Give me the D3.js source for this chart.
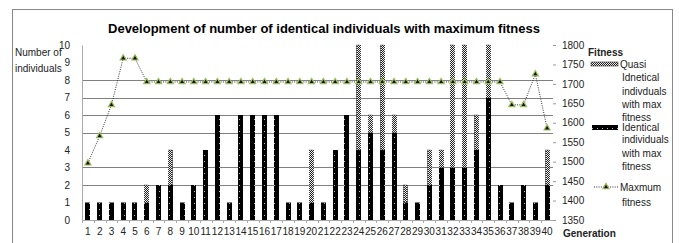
<!DOCTYPE html>
<html>
<head>
<meta charset="utf-8">
<script src="https://cdn.jsdelivr.net/npm/d3@7"></script>
<style>
  body { margin: 0; background: #fff; }
  text { font-family: "Liberation Sans", Arial, sans-serif; fill: #222; }
</style>
</head>
<body>
<div id="chart"></div>
<script>
// chart data
const generations = [1, 2, 3, 4, 5, 6, 7, 8, 9, 10, 11, 12, 13, 14, 15, 16, 17, 18, 19, 20,
  21, 22, 23, 24, 25, 26, 27, 28, 29, 30, 31, 32, 33, 34, 35, 36, 37, 38, 39, 40];
const identical = [1, 1, 1, 1, 1, 1, 2, 2, 1, 2, 4, 6, 1, 6, 6, 6, 6, 1, 1, 1,
  1, 4, 6, 4, 5, 4, 5, 1, 1, 2, 3, 3, 3, 4, 7, 2, 1, 2, 1, 2];
const quasi = [0, 0, 0, 0, 0, 1, 0, 2, 0, 0, 0, 0, 0, 0, 0, 0, 0, 0, 0, 3,
  0, 0, 0, 6, 1, 6, 1, 1, 0, 2, 1, 7, 7, 2, 3, 0, 0, 0, 0, 2];
const maxFitness = [1496, 1566, 1646, 1766, 1766, 1705, 1705, 1705, 1705, 1705,
  1705, 1705, 1705, 1705, 1705, 1705, 1705, 1705, 1705, 1705,
  1705, 1705, 1705, 1705, 1705, 1705, 1705, 1705, 1705, 1705,
  1705, 1705, 1705, 1705, 1705, 1705, 1646, 1646, 1725, 1586];
const leftTicks = [0, 1, 2, 3, 4, 5, 6, 7, 8, 9, 10];
const rightTicks = [1350, 1400, 1450, 1500, 1550, 1600, 1650, 1700, 1750, 1800];
const gridTicks = [2, 3, 5, 6, 7, 8];

const svgWidth = 679;
const svgHeight = 243;

const margin = { top: 45, right: 126, bottom: 23, left: 82 };
const chartWidth = svgWidth - margin.left - margin.right;
const chartHeight = svgHeight - margin.top - margin.bottom;

var svg = d3.select("#chart")
  .append("svg")
  .attr("width", svgWidth)
  .attr("height", svgHeight);

// patterns for the bar fills
var defs = svg.append("defs");
var dotBlack = defs.append("pattern")
  .attr("id", "identPat")
  .attr("patternUnits", "userSpaceOnUse")
  .attr("width", 5).attr("height", 6);
dotBlack.append("rect").attr("width", 5).attr("height", 6).attr("fill", "#000");
dotBlack.append("rect").attr("x", 2).attr("y", 2).attr("width", 1).attr("height", 1).attr("fill", "#bbb");

var checker = defs.append("pattern")
  .attr("id", "quasiPat")
  .attr("patternUnits", "userSpaceOnUse")
  .attr("width", 2).attr("height", 2);
checker.append("rect").attr("width", 2).attr("height", 2).attr("fill", "#eee");
checker.append("rect").attr("width", 1).attr("height", 1).attr("fill", "#222");
checker.append("rect").attr("x", 1).attr("y", 1).attr("width", 1).attr("height", 1).attr("fill", "#222");

// outer frame
svg.append("rect")
  .attr("x", 12.5).attr("y", 9.5)
  .attr("width", 660).attr("height", 260)
  .attr("fill", "none")
  .attr("stroke", "#888");

svg.append("text")
  .attr("x", 324)
  .attr("y", 33)
  .attr("text-anchor", "middle")
  .attr("font-weight", "bold")
  .attr("font-size", "13px")
  .style("fill", "#000")
  .text("Development of number of identical individuals with maximum fitness");

var chartGroup = svg.append("g")
  .attr("transform", `translate(${margin.left}, ${margin.top})`);

let xScale = d3.scaleBand()
  .domain(generations)
  .range([0, chartWidth]);

let yLeft = d3.scaleLinear()
  .domain([0, 10])
  .range([chartHeight, 0]);

let yRight = d3.scaleLinear()
  .domain([1350, 1800])
  .range([chartHeight, 0]);

// grid lines
chartGroup.append("g")
  .selectAll("line")
  .data(gridTicks)
  .enter()
  .append("line")
  .attr("x1", 0)
  .attr("x2", chartWidth)
  .attr("y1", d => Math.round(yLeft(d)) + 0.5)
  .attr("y2", d => Math.round(yLeft(d)) + 0.5)
  .attr("stroke", "#808080");

// left axis
let leftAxis = d3.axisLeft(yLeft).tickValues(leftTicks).tickSize(0).tickPadding(12);
let leftG = chartGroup.append("g").call(leftAxis);
leftG.select(".domain").attr("stroke", "#aaa");
leftG.selectAll("text").attr("font-size", "10px").attr("font-family", "Liberation Sans, Arial");

// bottom axis
let bottomAxis = d3.axisBottom(xScale).tickSize(0).tickPadding(8);
let bottomG = chartGroup.append("g")
  .attr("transform", `translate(0, ${chartHeight})`)
  .call(bottomAxis);
bottomG.select(".domain").attr("stroke", "#aaa");
bottomG.selectAll("text").attr("font-size", "10px").attr("font-family", "Liberation Sans, Arial");
bottomG.selectAll(".sep")
  .data(generations)
  .enter()
  .append("line")
  .attr("class", "sep")
  .attr("x1", d => Math.round(xScale(d)) + 0.5)
  .attr("x2", d => Math.round(xScale(d)) + 0.5)
  .attr("y1", 0).attr("y2", 3)
  .attr("stroke", "#aaa");

// right axis
let rightAxis = d3.axisRight(yRight).tickValues(rightTicks).tickFormat(d3.format("d"))
  .tickSize(3).tickPadding(6);
let rightG = chartGroup.append("g")
  .attr("transform", `translate(${chartWidth}, 0)`)
  .call(rightAxis);
rightG.select(".domain").remove();
rightG.selectAll("line").attr("stroke", "#999");
rightG.selectAll("text").attr("font-size", "10px").attr("font-family", "Liberation Sans, Arial");

// bars
const barW = 5;
chartGroup.selectAll(".ident")
  .data(generations)
  .enter()
  .append("rect")
  .attr("class", "ident")
  .attr("x", (d, i) => Math.round(xScale(d) + xScale.bandwidth() / 2 - barW / 2))
  .attr("y", (d, i) => yLeft(identical[i]))
  .attr("width", barW)
  .attr("height", (d, i) => chartHeight - yLeft(identical[i]))
  .attr("fill", "url(#identPat)");

chartGroup.selectAll(".quasi")
  .data(generations.filter((d, i) => quasi[i] > 0))
  .enter()
  .append("rect")
  .attr("class", "quasi")
  .attr("x", d => Math.round(xScale(d) + xScale.bandwidth() / 2 - barW / 2) + 0.5)
  .attr("y", d => yLeft(identical[d - 1] + quasi[d - 1]))
  .attr("width", barW - 1)
  .attr("height", d => yLeft(identical[d - 1]) - yLeft(identical[d - 1] + quasi[d - 1]))
  .attr("fill", "url(#quasiPat)")
  .attr("stroke", "#222")
  .attr("stroke-width", 0.8)
  .attr("stroke-dasharray", "1,1");

// fitness line
let fitLine = d3.line()
  .x((d, i) => xScale(generations[i]) + xScale.bandwidth() / 2)
  .y(d => yRight(d));

chartGroup.append("path")
  .datum(maxFitness)
  .attr("d", fitLine)
  .attr("fill", "none")
  .attr("stroke", "#333")
  .attr("stroke-width", 1)
  .attr("stroke-dasharray", "1,1.3");

let tri = d3.symbol().type(d3.symbolTriangle).size(16);
chartGroup.selectAll(".mark")
  .data(maxFitness)
  .enter()
  .append("path")
  .attr("class", "mark")
  .attr("d", tri)
  .attr("transform", (d, i) => `translate(${xScale(generations[i]) + xScale.bandwidth() / 2}, ${yRight(d)})`)
  .attr("fill", "#111")
  .attr("stroke", "#9bbb59")
  .attr("stroke-width", 1.2);

// axis titles
svg.append("text").attr("x", 15).attr("y", 56)
  .attr("font-size", "10px").text("Number of");
svg.append("text").attr("x", 15).attr("y", 72)
  .attr("font-size", "10px").text("individuals");
svg.append("text").attr("x", 588).attr("y", 56)
  .attr("font-size", "10px").attr("font-weight", "bold").text("Fitness");
svg.append("text").attr("x", 563).attr("y", 237)
  .attr("font-size", "10px").attr("font-weight", "bold").text("Generation");

// legend
var legend = svg.append("g");
legend.append("rect").attr("x", 591).attr("y", 62).attr("width", 27).attr("height", 4)
  .attr("fill", "url(#quasiPat)").attr("stroke", "#333").attr("stroke-width", 0.6);
legend.append("rect").attr("x", 592).attr("y", 125).attr("width", 26).attr("height", 5)
  .attr("fill", "url(#identPat)");
legend.append("line").attr("x1", 594).attr("x2", 618).attr("y1", 187).attr("y2", 187)
  .attr("stroke", "#333").attr("stroke-dasharray", "1,1.3");
legend.append("path").attr("d", tri)
  .attr("transform", "translate(606,187)")
  .attr("fill", "#111").attr("stroke", "#9bbb59").attr("stroke-width", 1.2);

const legendLines = [
  { x: 620, y: 68, t: "Quasi" },
  { x: 622, y: 81, t: "Idnetical" },
  { x: 622, y: 95, t: "indivduals" },
  { x: 622, y: 108, t: "with max" },
  { x: 622, y: 121, t: "fitness" },
  { x: 622, y: 131, t: "Identical" },
  { x: 622, y: 143, t: "individuals" },
  { x: 622, y: 157, t: "with max" },
  { x: 622, y: 170, t: "fitness" },
  { x: 620, y: 191, t: "Maxmum" },
  { x: 622, y: 206, t: "fitness" }
];
legend.selectAll(".lt")
  .data(legendLines)
  .enter()
  .append("text")
  .attr("class", "lt")
  .attr("x", d => d.x)
  .attr("y", d => d.y)
  .attr("font-size", "10px")
  .text(d => d.t);
</script>
</body>
</html>
